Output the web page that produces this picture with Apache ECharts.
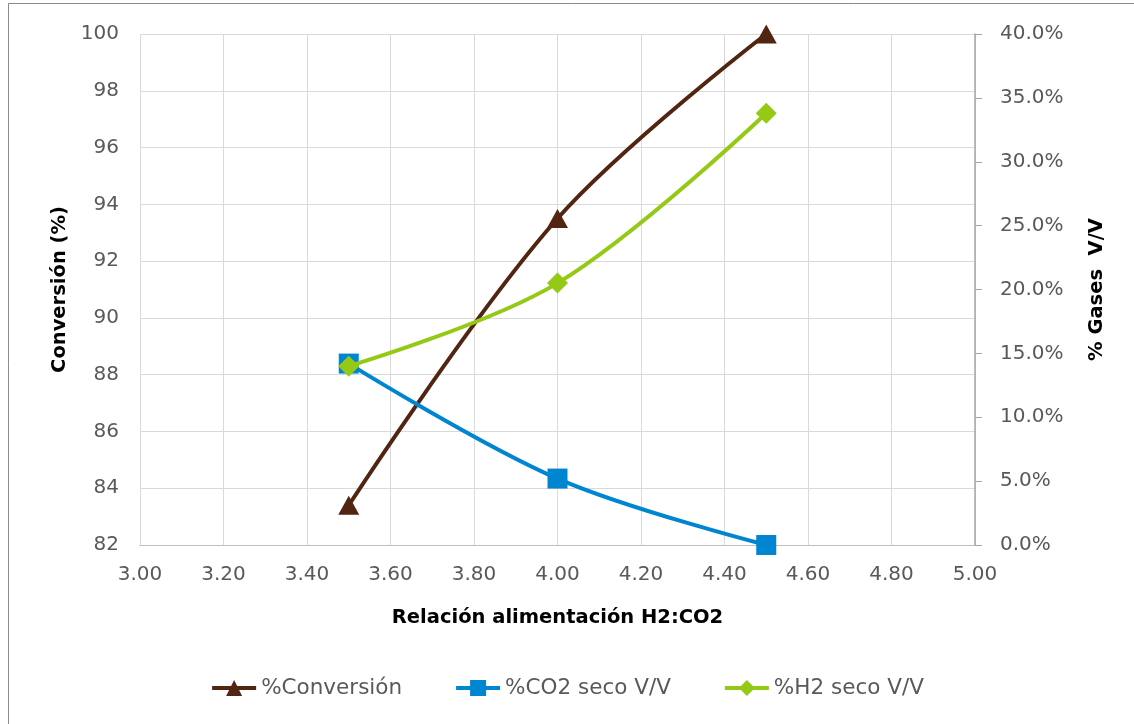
<!DOCTYPE html>
<html>
<head>
<meta charset="utf-8">
<title>Conversión y gases secos vs relación H2:CO2</title>
<script src="https://cdn.jsdelivr.net/npm/echarts@6/dist/echarts.min.js"></script>
<style>
  html, body { margin: 0; padding: 0; background: #fff; }
  #chart { width: 1134px; height: 724px; }
</style>
</head>
<body>
<div id="chart"></div>
<script>
// Relación de alimentación H2:CO2 (eje X)
const relacion = [3.5, 4.0, 4.5];
// Conversión de CO2 (%), eje izquierdo
const conversion = [83.4, 93.5, 100.0];
// Composición de gases secos (% V/V), eje derecho
const co2Seco = [14.2, 5.2, 0.0];
const h2Seco = [14.0, 20.5, 33.8];

const seriesNames = ['%Conversión', '%CO2 seco V/V', '%H2 seco V/V'];
const colors = ['#512511', '#0085d0', '#94c915'];

const FONT = 'DejaVu Sans';
const tickColor = '#595959';

function pairs(xs, ys) { return xs.map((x, i) => [x, ys[i]]); }

const chart = echarts.init(document.getElementById('chart'), null, { renderer: 'canvas' });

chart.setOption({
  animation: false,
  backgroundColor: '#ffffff',
  color: colors,
  graphic: [{
    type: 'rect',
    shape: { x: 8.5, y: 3.5, width: 1200, height: 800 },
    style: { fill: 'none', stroke: '#8a8a8a', lineWidth: 1 },
    silent: true
  }],
  grid: { left: 140, right: 159, top: 34, bottom: 179, containLabel: false },
  legend: {
    bottom: 20,
    left: 'center',
    itemWidth: 44,
    itemHeight: 20,
    itemGap: 52,
    lineStyle: { width: 4 },
    textStyle: { fontFamily: FONT, fontSize: 21.5, color: tickColor },
    data: seriesNames
  },
  xAxis: {
    type: 'value',
    min: 3.0,
    max: 5.0,
    interval: 0.2,
    name: 'Relación alimentación H2:CO2',
    nameLocation: 'middle',
    nameGap: 63,
    nameTextStyle: { fontFamily: FONT, fontSize: 19.5, fontWeight: 'bold', color: '#000' },
    axisLine: { show: true, lineStyle: { color: '#bfbfbf', width: 1 } },
    axisTick: { show: false },
    axisLabel: {
      margin: 20,
      fontFamily: FONT, fontSize: 20, color: tickColor,
      formatter: v => v.toFixed(2)
    },
    splitLine: { show: true, lineStyle: { color: '#d9d9d9', width: 1 } }
  },
  yAxis: [{
    type: 'value',
    position: 'left',
    min: 82,
    max: 100,
    interval: 2,
    name: 'Conversión (%)',
    nameLocation: 'middle',
    nameRotate: 90,
    nameGap: 70,
    nameTextStyle: { fontFamily: FONT, fontSize: 19.5, fontWeight: 'bold', color: '#000' },
    axisLine: { show: false },
    axisTick: { show: false },
    axisLabel: { margin: 21, fontFamily: FONT, fontSize: 20, color: tickColor },
    splitLine: { show: true, lineStyle: { color: '#d9d9d9', width: 1 } }
  }, {
    type: 'value',
    position: 'right',
    min: 0,
    max: 40,
    interval: 5,
    name: '% Gases  V/V',
    nameLocation: 'middle',
    nameRotate: 90,
    nameGap: 112,
    nameTextStyle: { fontFamily: FONT, fontSize: 19.5, fontWeight: 'bold', color: '#000' },
    axisLine: { show: true, lineStyle: { color: '#a6a6a6', width: 1.5 } },
    axisTick: { show: true, inside: false, length: 7, lineStyle: { color: '#a6a6a6', width: 1 } },
    axisLabel: {
      margin: 25, fontFamily: FONT, fontSize: 20, color: tickColor,
      formatter: v => v.toFixed(1) + '%'
    },
    splitLine: { show: false }
  }],
  series: [{
    name: seriesNames[0],
    type: 'line',
    yAxisIndex: 0,
    smooth: 0.35,
    data: pairs(relacion, conversion),
    symbol: 'triangle',
    symbolSize: [21, 19],
    lineStyle: { width: 4, color: colors[0] },
    itemStyle: { color: colors[0] },
    z: 2
  }, {
    name: seriesNames[1],
    type: 'line',
    yAxisIndex: 1,
    smooth: 0.35,
    data: pairs(relacion, co2Seco),
    symbol: 'rect',
    symbolSize: 20,
    lineStyle: { width: 4, color: colors[1] },
    itemStyle: { color: colors[1] },
    z: 3
  }, {
    name: seriesNames[2],
    type: 'line',
    yAxisIndex: 1,
    smooth: 0.35,
    data: pairs(relacion, h2Seco),
    symbol: 'diamond',
    symbolSize: 21,
    lineStyle: { width: 4, color: colors[2] },
    itemStyle: { color: colors[2] },
    z: 4
  }]
});
</script>
</body>
</html>
